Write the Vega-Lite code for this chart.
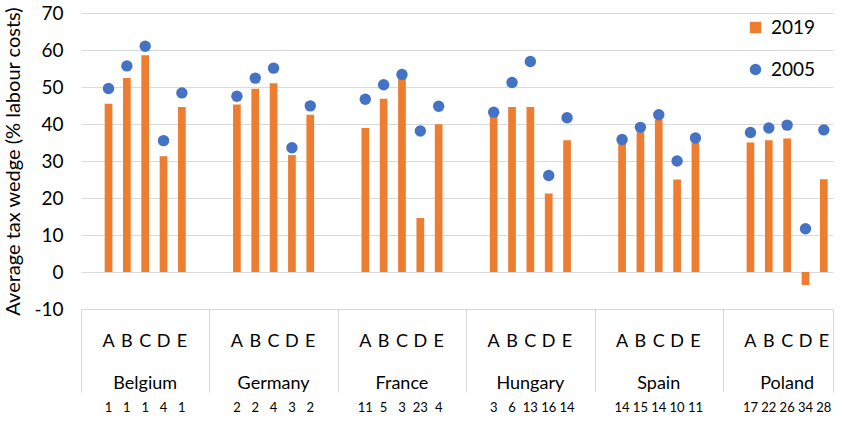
{
  "$schema": "https://vega.github.io/schema/vega-lite/v6.json",
  "width": 752,
  "height": 296,
  "autosize": {"type": "none"},
  "padding": {"left": 81, "top": 13, "right": 10, "bottom": 115},
  "config": {"view": {"stroke": null}, "font": "Lato", "axis": {"labelFont": "Lato", "titleFont": "Lato"}, "legend": {"labelFont": "Lato"}},
  "data": {"values": [
    {"key": "Belgium A", "country": "Belgium", "test": "A", "rank": "1", "year": "2019", "value": 45.5},
    {"key": "Belgium B", "country": "Belgium", "test": "B", "rank": "1", "year": "2019", "value": 52.4},
    {"key": "Belgium C", "country": "Belgium", "test": "C", "rank": "1", "year": "2019", "value": 58.6},
    {"key": "Belgium D", "country": "Belgium", "test": "D", "rank": "4", "year": "2019", "value": 31.3},
    {"key": "Belgium E", "country": "Belgium", "test": "E", "rank": "1", "year": "2019", "value": 44.6},
    {"key": "Germany A", "country": "Germany", "test": "A", "rank": "2", "year": "2019", "value": 45.3},
    {"key": "Germany B", "country": "Germany", "test": "B", "rank": "2", "year": "2019", "value": 49.5},
    {"key": "Germany C", "country": "Germany", "test": "C", "rank": "4", "year": "2019", "value": 51.0},
    {"key": "Germany D", "country": "Germany", "test": "D", "rank": "3", "year": "2019", "value": 31.6},
    {"key": "Germany E", "country": "Germany", "test": "E", "rank": "2", "year": "2019", "value": 42.5},
    {"key": "France A", "country": "France", "test": "A", "rank": "11", "year": "2019", "value": 38.9},
    {"key": "France B", "country": "France", "test": "B", "rank": "5", "year": "2019", "value": 46.8},
    {"key": "France C", "country": "France", "test": "C", "rank": "3", "year": "2019", "value": 52.5},
    {"key": "France D", "country": "France", "test": "D", "rank": "23", "year": "2019", "value": 14.6},
    {"key": "France E", "country": "France", "test": "E", "rank": "4", "year": "2019", "value": 39.9},
    {"key": "Hungary A", "country": "Hungary", "test": "A", "rank": "3", "year": "2019", "value": 42.9},
    {"key": "Hungary B", "country": "Hungary", "test": "B", "rank": "6", "year": "2019", "value": 44.6},
    {"key": "Hungary C", "country": "Hungary", "test": "C", "rank": "13", "year": "2019", "value": 44.6},
    {"key": "Hungary D", "country": "Hungary", "test": "D", "rank": "16", "year": "2019", "value": 21.2},
    {"key": "Hungary E", "country": "Hungary", "test": "E", "rank": "14", "year": "2019", "value": 35.6},
    {"key": "Spain A", "country": "Spain", "test": "A", "rank": "14", "year": "2019", "value": 34.8},
    {"key": "Spain B", "country": "Spain", "test": "B", "rank": "15", "year": "2019", "value": 37.8},
    {"key": "Spain C", "country": "Spain", "test": "C", "rank": "14", "year": "2019", "value": 41.2},
    {"key": "Spain D", "country": "Spain", "test": "D", "rank": "10", "year": "2019", "value": 25.0},
    {"key": "Spain E", "country": "Spain", "test": "E", "rank": "11", "year": "2019", "value": 35.0},
    {"key": "Poland A", "country": "Poland", "test": "A", "rank": "17", "year": "2019", "value": 35.0},
    {"key": "Poland B", "country": "Poland", "test": "B", "rank": "22", "year": "2019", "value": 35.6},
    {"key": "Poland C", "country": "Poland", "test": "C", "rank": "26", "year": "2019", "value": 36.1},
    {"key": "Poland D", "country": "Poland", "test": "D", "rank": "34", "year": "2019", "value": -3.5},
    {"key": "Poland E", "country": "Poland", "test": "E", "rank": "28", "year": "2019", "value": 25.1},
    {"key": "Belgium A", "country": "Belgium", "test": "A", "rank": "1", "year": "2005", "value": 49.6},
    {"key": "Belgium B", "country": "Belgium", "test": "B", "rank": "1", "year": "2005", "value": 55.7},
    {"key": "Belgium C", "country": "Belgium", "test": "C", "rank": "1", "year": "2005", "value": 61.0},
    {"key": "Belgium D", "country": "Belgium", "test": "D", "rank": "4", "year": "2005", "value": 35.5},
    {"key": "Belgium E", "country": "Belgium", "test": "E", "rank": "1", "year": "2005", "value": 48.4},
    {"key": "Germany A", "country": "Germany", "test": "A", "rank": "2", "year": "2005", "value": 47.5},
    {"key": "Germany B", "country": "Germany", "test": "B", "rank": "2", "year": "2005", "value": 52.4},
    {"key": "Germany C", "country": "Germany", "test": "C", "rank": "4", "year": "2005", "value": 55.1},
    {"key": "Germany D", "country": "Germany", "test": "D", "rank": "3", "year": "2005", "value": 33.6},
    {"key": "Germany E", "country": "Germany", "test": "E", "rank": "2", "year": "2005", "value": 44.9},
    {"key": "France A", "country": "France", "test": "A", "rank": "11", "year": "2005", "value": 46.7},
    {"key": "France B", "country": "France", "test": "B", "rank": "5", "year": "2005", "value": 50.6},
    {"key": "France C", "country": "France", "test": "C", "rank": "3", "year": "2005", "value": 53.4},
    {"key": "France D", "country": "France", "test": "D", "rank": "23", "year": "2005", "value": 38.1},
    {"key": "France E", "country": "France", "test": "E", "rank": "4", "year": "2005", "value": 44.8},
    {"key": "Hungary A", "country": "Hungary", "test": "A", "rank": "3", "year": "2005", "value": 43.2},
    {"key": "Hungary B", "country": "Hungary", "test": "B", "rank": "6", "year": "2005", "value": 51.2},
    {"key": "Hungary C", "country": "Hungary", "test": "C", "rank": "13", "year": "2005", "value": 56.9},
    {"key": "Hungary D", "country": "Hungary", "test": "D", "rank": "16", "year": "2005", "value": 26.1},
    {"key": "Hungary E", "country": "Hungary", "test": "E", "rank": "14", "year": "2005", "value": 41.7},
    {"key": "Spain A", "country": "Spain", "test": "A", "rank": "14", "year": "2005", "value": 35.8},
    {"key": "Spain B", "country": "Spain", "test": "B", "rank": "15", "year": "2005", "value": 39.1},
    {"key": "Spain C", "country": "Spain", "test": "C", "rank": "14", "year": "2005", "value": 42.5},
    {"key": "Spain D", "country": "Spain", "test": "D", "rank": "10", "year": "2005", "value": 30.0},
    {"key": "Spain E", "country": "Spain", "test": "E", "rank": "11", "year": "2005", "value": 36.2},
    {"key": "Poland A", "country": "Poland", "test": "A", "rank": "17", "year": "2005", "value": 37.7},
    {"key": "Poland B", "country": "Poland", "test": "B", "rank": "22", "year": "2005", "value": 38.9},
    {"key": "Poland C", "country": "Poland", "test": "C", "rank": "26", "year": "2005", "value": 39.7},
    {"key": "Poland D", "country": "Poland", "test": "D", "rank": "34", "year": "2005", "value": 11.7},
    {"key": "Poland E", "country": "Poland", "test": "E", "rank": "28", "year": "2005", "value": 38.4}
  ]},
  "layer": [
    {
      "mark": {"type": "rule", "opacity": 0},
      "encoding": {
        "x": {"datum": 0, "type": "quantitative",
          "scale": {"domain": [0, 41], "nice": false, "zero": false},
          "axis": {"orient": "bottom", "values": [0, 7, 14, 21, 28, 35, 41], "tickCount": 10, "labels": false, "domain": false, "grid": false, "ticks": true, "tickSize": 83, "tickColor": "#d9d9d9", "tickWidth": 1, "title": null}}
      }
    },
    {
      "transform": [{"filter": "datum.year == '2019'"}],
      "mark": {"type": "bar", "color": "#ED7D31", "width": {"band": 0.42}},
      "encoding": {
        "x": {"field": "key", "type": "nominal", "sort": null,
          "scale": {"type": "band", "paddingInner": 0, "paddingOuter": 0, "domain": ["Belgium 0","Belgium A","Belgium B","Belgium C","Belgium D","Belgium E","Belgium 6","Germany 0","Germany A","Germany B","Germany C","Germany D","Germany E","Germany 6","France 0","France A","France B","France C","France D","France E","France 6","Hungary 0","Hungary A","Hungary B","Hungary C","Hungary D","Hungary E","Hungary 6","Spain 0","Spain A","Spain B","Spain C","Spain D","Spain E","Spain 6","Poland 0","Poland A","Poland B","Poland C","Poland D","Poland E"]},
          "axis": {"orient": "bottom", "title": null, "domain": false, "ticks": false, "grid": false, "labelAngle": 0, "labelExpr": "indexof(['A','B','C','D','E'], split(datum.value, ' ')[1]) >= 0 ? split(datum.value, ' ')[1] : ''", "labelBaseline": "alphabetic", "labelPadding": 37, "labelFontSize": 18, "labelColor": "#000000", "labelOverlap": false, "labelBound": false}},
        "y": {"field": "value", "type": "quantitative",
          "scale": {"domain": [-10, 70], "nice": false},
          "axis": {"title": "Average tax wedge (% labour costs)", "titleFontSize": 20, "titleFontWeight": "normal", "titleColor": "#000000", "titlePadding": 10, "labelFontSize": 19, "labelColor": "#000000", "labelPadding": 18, "labelOverlap": false, "labelExpr": "'' + datum.value", "ticks": false, "domain": false, "grid": true, "gridColor": "#d9d9d9", "gridWidth": 1, "values": [-10, 0, 10, 20, 30, 40, 50, 60, 70], "tickCount": 9}}
      }
    },
    {
      "transform": [{"filter": "datum.year == '2005'"}],
      "mark": {"type": "point", "filled": true, "size": 130, "opacity": 1},
      "encoding": {
        "x": {"field": "key", "type": "nominal", "sort": null,
          "scale": {"type": "band", "paddingInner": 0, "paddingOuter": 0, "domain": ["Belgium 0","Belgium A","Belgium B","Belgium C","Belgium D","Belgium E","Belgium 6","Germany 0","Germany A","Germany B","Germany C","Germany D","Germany E","Germany 6","France 0","France A","France B","France C","France D","France E","France 6","Hungary 0","Hungary A","Hungary B","Hungary C","Hungary D","Hungary E","Hungary 6","Spain 0","Spain A","Spain B","Spain C","Spain D","Spain E","Spain 6","Poland 0","Poland A","Poland B","Poland C","Poland D","Poland E"]},
          "axis": {"orient": "bottom", "title": null, "domain": false, "ticks": false, "grid": false, "labelAngle": 0, "labelExpr": "split(datum.value, ' ')[1] == 'C' ? split(datum.value, ' ')[0] : ''", "labelBaseline": "alphabetic", "labelPadding": 79, "labelFontSize": 18, "labelColor": "#000000", "labelOverlap": false, "labelBound": false}},
        "y": {"field": "value", "type": "quantitative",
          "scale": {"domain": [-10, 70], "nice": false},
          "axis": {"title": "Average tax wedge (% labour costs)", "titleFontSize": 20, "titleFontWeight": "normal", "titleColor": "#000000", "titlePadding": 10, "labelFontSize": 19, "labelColor": "#000000", "labelPadding": 18, "labelOverlap": false, "labelExpr": "'' + datum.value", "ticks": false, "domain": false, "grid": true, "gridColor": "#d9d9d9", "gridWidth": 1, "values": [-10, 0, 10, 20, 30, 40, 50, 60, 70], "tickCount": 9}},
        "color": {"field": "year", "type": "nominal",
          "scale": {"domain": ["2019", "2005"], "range": ["#ED7D31", "#4472C4"]},
          "legend": {"title": null, "orient": "none", "legendX": 665, "legendY": 5, "direction": "vertical", "labelFontSize": 19, "labelColor": "#000000", "symbolSize": 130, "rowPadding": 22, "labelOffset": 6, "symbolStrokeWidth": 0, "padding": 0}},
        "shape": {"field": "year", "type": "nominal",
          "scale": {"domain": ["2019", "2005"], "range": ["square", "circle"]},
          "legend": {"title": null, "orient": "none", "legendX": 665, "legendY": 5, "direction": "vertical", "labelFontSize": 19, "labelColor": "#000000", "symbolSize": 130, "rowPadding": 22, "labelOffset": 6, "symbolStrokeWidth": 0, "padding": 0}}
      }
    },
    {
      "transform": [{"filter": "datum.year == '2019'"}],
      "mark": {"type": "text", "fontSize": 13, "baseline": "alphabetic", "color": "#000000", "font": "Lato"},
      "encoding": {
        "x": {"field": "key", "type": "nominal", "sort": null,
          "scale": {"type": "band", "paddingInner": 0, "paddingOuter": 0, "domain": ["Belgium 0","Belgium A","Belgium B","Belgium C","Belgium D","Belgium E","Belgium 6","Germany 0","Germany A","Germany B","Germany C","Germany D","Germany E","Germany 6","France 0","France A","France B","France C","France D","France E","France 6","Hungary 0","Hungary A","Hungary B","Hungary C","Hungary D","Hungary E","Hungary 6","Spain 0","Spain A","Spain B","Spain C","Spain D","Spain E","Spain 6","Poland 0","Poland A","Poland B","Poland C","Poland D","Poland E"]},
          "axis": null},
        "y": {"datum": -37.8, "type": "quantitative", "scale": {"domain": [-10, 70], "nice": false}},
        "text": {"field": "rank"}
      }
    }
  ],
  "resolve": {"scale": {"x": "independent"}, "axis": {"x": "independent"}}
}
